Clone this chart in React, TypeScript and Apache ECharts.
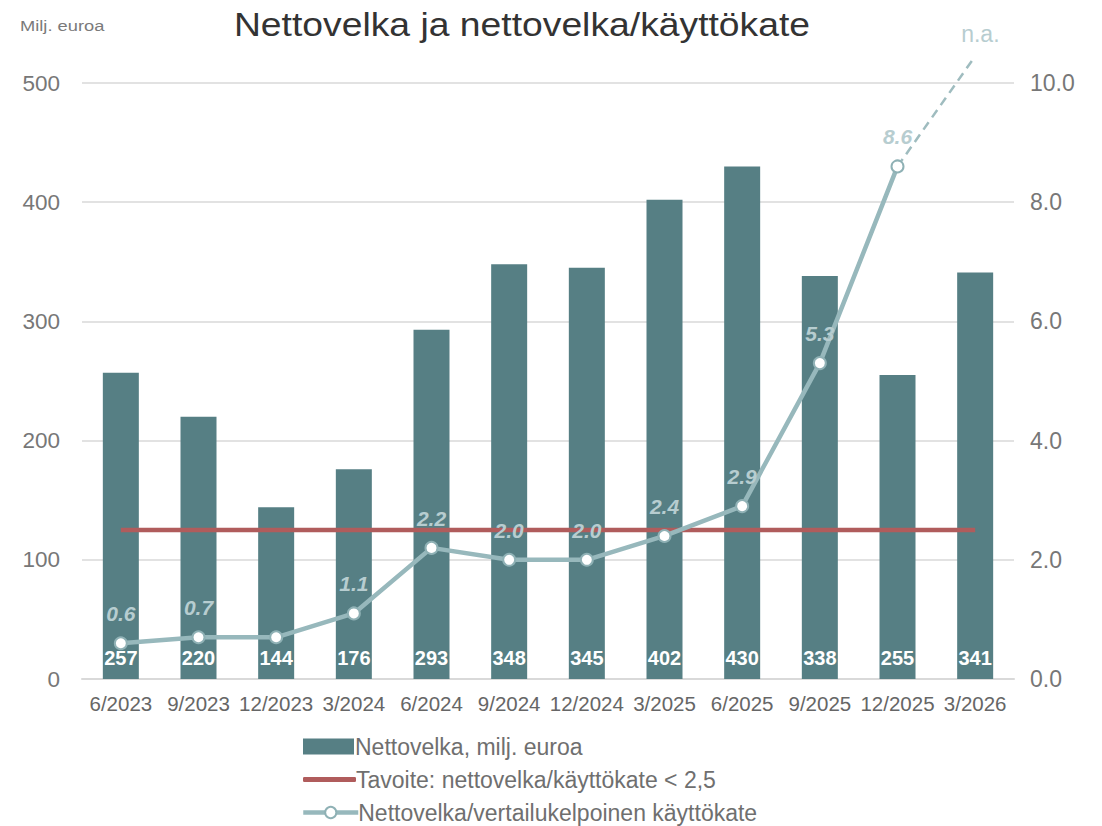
import React, { useEffect, useRef } from "react";
import * as echarts from "echarts";

const categories = ["6/2023", "9/2023", "12/2023", "3/2024", "6/2024", "9/2024", "12/2024", "3/2025", "6/2025", "9/2025", "12/2025", "3/2026"];
const netDebt = [257, 220, 144, 176, 293, 348, 345, 402, 430, 338, 255, 341];
const ratio = [0.6, 0.7, 0.7, 1.1, 2.2, 2.0, 2.0, 2.4, 2.9, 5.3, 8.6, null];
const ratioLabelShown = [true, true, false, true, true, true, true, true, true, true, true, false];
const projected = [null, null, null, null, null, null, null, null, null, null, 8.6, 10.45];
const target = [2.5, 2.5, 2.5, 2.5, 2.5, 2.5, 2.5, 2.5, 2.5, 2.5, 2.5, 2.5];
const leftTicks = [0, 100, 200, 300, 400, 500];

const FONT = "'Liberation Sans', Arial, sans-serif";
const S_BAR = "Nettovelka, milj. euroa";
const S_TARGET = "Tavoite: nettovelka/käyttökate < 2,5";
const S_RATIO = "Nettovelka/vertailukelpoinen käyttökate";

export default function App() {
  const ref = useRef<HTMLDivElement>(null);
  useEffect(() => {
    const chart = echarts.init(ref.current!, null, { renderer: "svg" });
    const legendText = { fontSize: 23, color: "#6f6f6f", fontFamily: FONT };
    chart.setOption({
      animation: false,
      textStyle: { fontFamily: FONT },
      graphic: [
        {
          type: "text",
          x: 522,
          y: 8,
          scaleX: 1.13,
          style: {
            text: "Nettovelka ja nettovelka/käyttökate",
            fontSize: 33,
            fill: "#333333",
            fontFamily: FONT,
            align: "center",
            verticalAlign: "top",
          },
        },
        {
          type: "text",
          x: 20,
          y: 19,
          scaleX: 1.22,
          style: { text: "Milj. euroa", fontSize: 15, fill: "#7a7a7a", fontFamily: FONT },
        },
      ],
      legend: [
        {
          left: 298,
          top: 730,
          itemWidth: 51,
          itemHeight: 16,
          itemGap: 0,
          data: [{ name: S_BAR, icon: "rect" }],
          textStyle: { ...legendText, padding: [0, 0, 0, -4] },
        },
        {
          left: 298,
          top: 763,
          itemWidth: 53,
          itemHeight: 5,
          itemGap: 0,
          data: [{ name: S_TARGET, icon: "roundRect" }],
          textStyle: { ...legendText, padding: [0, 0, 0, -5] },
        },
        {
          left: 296,
          top: 796,
          itemWidth: 55,
          itemHeight: 14,
          itemGap: 0,
          data: [{ name: S_RATIO }],
          lineStyle: { width: 4.5 },
          textStyle: { ...legendText, padding: [0, 0, 0, -5] },
        },
      ],
      grid: { left: 82, right: 88, top: 83, bottom: 147 },
      xAxis: {
        type: "category",
        data: categories,
        axisLine: { lineStyle: { color: "#d9d9d9", width: 2 } },
        axisTick: { show: false },
        axisLabel: { fontSize: 20.5, color: "#666666", margin: 14, fontFamily: FONT, interval: 0 },
      },
      yAxis: [
        {
          type: "value",
          min: leftTicks[0],
          max: leftTicks[leftTicks.length - 1],
          interval: 100,
          axisLine: { show: false },
          axisTick: { show: false },
          splitLine: { lineStyle: { color: "#d9d9d9", width: 1.5 } },
          axisLabel: { fontSize: 22.5, color: "#777777", margin: 22, fontFamily: FONT },
        },
        {
          type: "value",
          min: 0,
          max: 10,
          interval: 2,
          axisLine: { show: false },
          axisTick: { show: false },
          splitLine: { show: false },
          axisLabel: {
            fontSize: 23,
            color: "#777777",
            margin: 16,
            fontFamily: FONT,
            formatter: (v: number) => v.toFixed(1),
          },
        },
      ],
      series: [
        {
          name: S_BAR,
          type: "bar",
          data: netDebt,
          barWidth: 36,
          itemStyle: { color: "#567f84" },
          label: {
            show: true,
            position: "insideBottom",
            distance: 11,
            color: "#ffffff",
            fontWeight: "bold",
            fontSize: 20,
            fontFamily: FONT,
          },
          z: 1,
        },
        {
          name: S_TARGET,
          type: "line",
          yAxisIndex: 1,
          data: target,
          symbol: "none",
          lineStyle: { color: "#b05c5c", width: 4.5 },
          itemStyle: { color: "#b05c5c" },
          z: 2,
        },
        {
          name: "projected",
          type: "line",
          yAxisIndex: 1,
          data: projected,
          clip: false,
          symbol: "none",
          lineStyle: { color: "#9fbcbf", width: 2.5, type: [9, 6] },
          endLabel: {
            show: true,
            formatter: "n.a.",
            color: "#b7cdd0",
            fontSize: 23,
            fontFamily: FONT,
            offset: [-22, -22],
          },
          z: 3,
        },
        {
          name: S_RATIO,
          type: "line",
          yAxisIndex: 1,
          data: ratio,
          symbol: "circle",
          symbolSize: 12,
          lineStyle: { color: "#97b8bc", width: 4.5 },
          itemStyle: { color: "#ffffff", borderColor: "#8fb1b5", borderWidth: 2 },
          label: {
            show: true,
            position: "top",
            distance: 12,
            color: "#b7cdd0",
            fontSize: 21,
            fontWeight: "bold",
            fontStyle: "italic",
            fontFamily: FONT,
            formatter: (p: any) => (ratioLabelShown[p.dataIndex] ? Number(p.value).toFixed(1) : ""),
          },
          z: 4,
        },
      ],
    });
    return () => chart.dispose();
  }, []);
  return <div ref={ref} style={{ width: 1102, height: 826, position: "absolute", left: 0, top: 0 }} />;
}
